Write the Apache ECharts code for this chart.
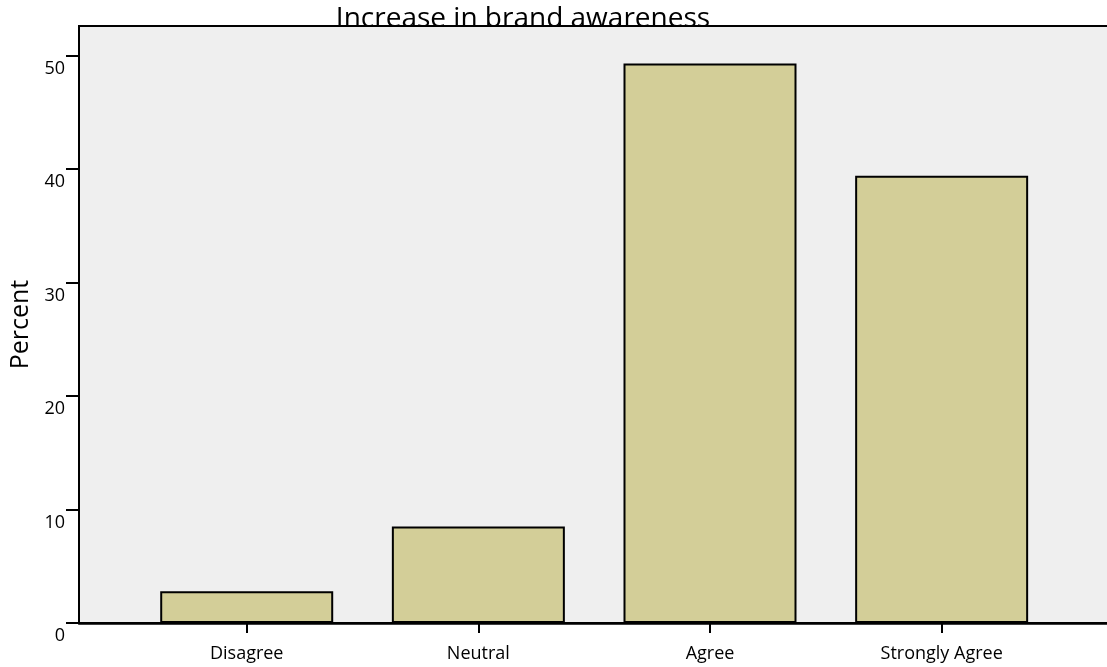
<!DOCTYPE html>
<html>
<head>
<meta charset="utf-8">
<script src="https://cdn.jsdelivr.net/npm/echarts@6/dist/echarts.min.js"></script>
<style>
html,body{margin:0;padding:0;background:#fff;overflow:hidden;width:1107px;height:667px;}
#c{width:1127px;height:667px;}
</style>
</head>
<body>
<div id="c"></div>
<script>
const title = 'Increase in brand awareness';
const categories = ['Disagree', 'Neutral', 'Agree', 'Strongly Agree'];
const percents = [2.8, 8.5, 49.3, 39.4];
const yAxisName = 'Percent';

const chart = echarts.init(document.getElementById('c'));
const FONT = 'Open Sans';
const X_MIN = -0.724, X_MAX = 3.757, Y_MAX = 52.6;
chart.setOption({
  animation: false,
  backgroundColor: '#ffffff',
  title: {
    text: title,
    left: 518, top: 0,
    textAlign: 'center',
    textStyle: { fontFamily: FONT, fontSize: 28, fontWeight: 'normal', color: '#000' },
    z: 10
  },
  grid: {
    left: 79, right: 10, top: 26, bottom: 44,
    outerBoundsMode: 'none', containLabel: false,
    show: true, backgroundColor: '#efefef', borderColor: '#000', borderWidth: 2
  },
  xAxis: {
    type: 'value',
    min: X_MIN, max: X_MAX,
    splitLine: { show: false },
    axisLine: { show: true, onZero: false, lineStyle: { color: '#000', width: 2.5 } },
    axisTick: { show: true, customValues: [0, 1, 2, 3], length: 10, lineStyle: { color: '#000', width: 2 } },
    axisLabel: {
      customValues: [0, 1, 2, 3],
      formatter: v => categories[Math.round(v)] || '',
      margin: 22, fontFamily: FONT, fontSize: 18, color: '#000'
    },
    z: 5
  },
  yAxis: {
    type: 'value',
    min: 0, max: Y_MAX, interval: 10,
    name: yAxisName, nameLocation: 'middle', nameGap: 42,
    nameTextStyle: { fontFamily: FONT, fontSize: 25, color: '#000' },
    splitLine: { show: false },
    axisLine: { show: true, onZero: false, lineStyle: { color: '#000', width: 2 } },
    axisTick: { show: true, length: 13, lineStyle: { color: '#000', width: 2 } },
    axisLabel: { margin: 14, verticalAlign: 'top', padding: [4, 0, 0, 0], fontFamily: FONT, fontSize: 18, color: '#000',
      showMaxLabel: false },
    z: 5
  },
  series: [{
    type: 'bar',
    data: percents.map((v, i) => [i, v]),
    barWidth: 173,
    itemStyle: { color: '#d3ce98', borderColor: '#000', borderWidth: 2 }
  }]
});
</script>
</body>
</html>
